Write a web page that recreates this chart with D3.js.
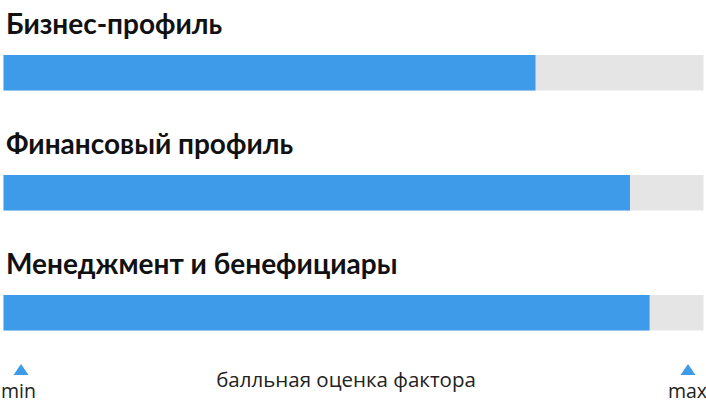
<!DOCTYPE html>
<html>
<head>
<meta charset="utf-8">
<script src="https://cdn.jsdelivr.net/npm/d3@7"></script>
<style>
  html, body { margin: 0; padding: 0; background: #fff; }
  svg { display: block; }
  .title { font-family: "Lato", sans-serif; font-weight: bold; font-size: 28px; fill: #111; }
  .note { font-family: "Open Sans", sans-serif; font-size: 20.5px; fill: #222; }
  .end { font-size: 19.5px; }
</style>
</head>
<body>
<svg id="chart" width="706" height="411"></svg>
<script>
// factor names and scores (0..100)
const factors = ["Бизнес-профиль", "Финансовый профиль", "Менеджмент и бенефициары"];
const scores = [76, 89.5, 92.3];
const axisLabels = ["min", "max"];
const axisTitle = "балльная оценка фактора";

const svg = d3.select("#chart");

const x = d3.scaleLinear().domain([0, 100]).range([3.5, 703.5]);
const y = d3.scaleBand().domain(factors).range([0, 360]).paddingInner(0);

const rows = svg.selectAll("g.row")
  .data(factors)
  .join("g")
  .attr("class", "row")
  .attr("transform", d => `translate(0, ${y(d)})`);

rows.append("text")
  .attr("class", "title")
  .attr("x", 6)
  .attr("y", 33.5)
  .text(d => d);

// grey track
rows.append("rect")
  .attr("x", x(0))
  .attr("y", 55)
  .attr("width", x(100) - x(0))
  .attr("height", 35.5)
  .attr("fill", "#e5e5e5");

// blue score bar
rows.append("rect")
  .attr("x", x(0))
  .attr("y", 55)
  .attr("width", (d, i) => x(scores[i]) - x(0))
  .attr("height", 35.5)
  .attr("fill", "#3d9be9");

// min / max markers
const ends = [{ label: axisLabels[0], cx: 21, tx: 1, anchor: "start" },
              { label: axisLabels[1], cx: 688, tx: 707, anchor: "end" }];

svg.selectAll("path.marker")
  .data(ends)
  .join("path")
  .attr("class", "marker")
  .attr("d", d => `M${d.cx - 7.5},375 L${d.cx + 7.5},375 L${d.cx},364 Z`)
  .attr("fill", "#3d9be9");

svg.selectAll("text.end")
  .data(ends)
  .join("text")
  .attr("class", "note end")
  .attr("x", d => d.tx)
  .attr("y", 398)
  .attr("text-anchor", d => d.anchor)
  .text(d => d.label);

svg.append("text")
  .attr("class", "note")
  .attr("x", 346)
  .attr("y", 387)
  .attr("text-anchor", "middle")
  .text(axisTitle);
</script>
</body>
</html>
